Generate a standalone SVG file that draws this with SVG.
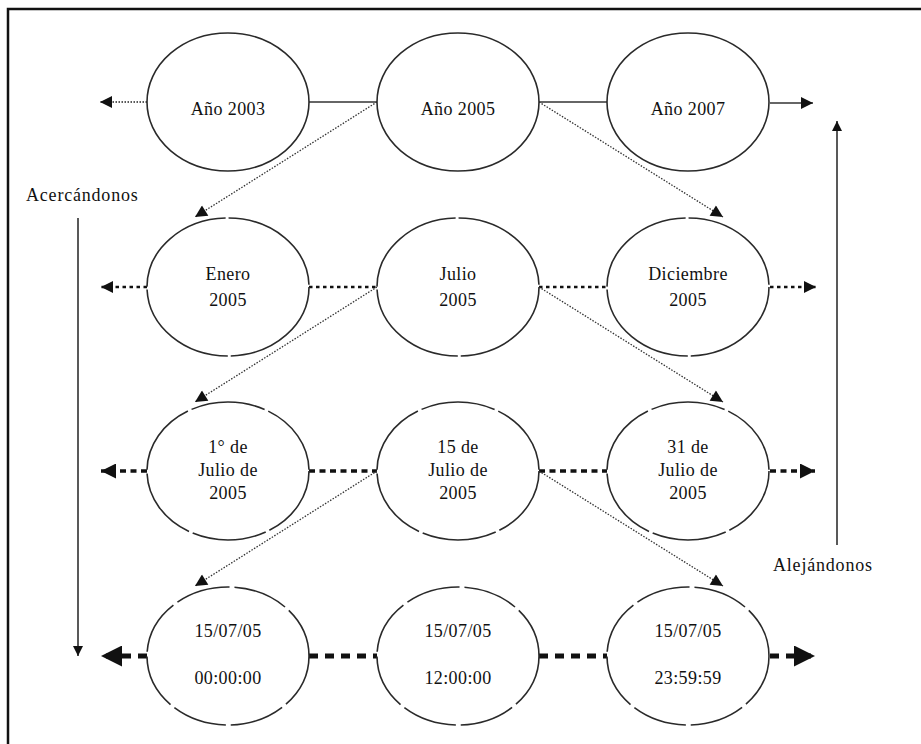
<svg xmlns="http://www.w3.org/2000/svg" width="921" height="744" viewBox="0 0 921 744">
<style>
.bg{fill:#fff}
.frame{stroke:#111;stroke-width:2.5;fill:none}
.node ellipse{fill:#fff;stroke:#2a2a2a;stroke-width:1.6}
.r2 ellipse{stroke-dasharray:115 3}
.r3 ellipse{stroke-dasharray:75 4}
.r4 ellipse{stroke-dasharray:55 5}
text{font-family:"Liberation Serif","Times New Roman",serif;font-size:18px;fill:#111;text-anchor:middle;letter-spacing:0.4px}
.lbl{text-anchor:start;letter-spacing:0.8px}
.solid{stroke:#333;stroke-width:1.3;fill:none}
.dot1{stroke:#222;stroke-width:1.6;stroke-dasharray:1.5 1.5;fill:none}
.diag{stroke:#333;stroke-width:1.3;stroke-dasharray:1.5 1.5;fill:none}
.dot2{stroke:#111;stroke-width:2.6;stroke-dasharray:3.5 3.5;fill:none}
.dot3{stroke:#111;stroke-width:3.6;stroke-dasharray:6 4.5;fill:none}
.dot4{stroke:#111;stroke-width:5;stroke-dasharray:9 7;fill:none}
.vert{stroke:#222;stroke-width:1.5;fill:none}
</style>
<defs>
<marker id="a1" viewBox="0 0 10 10" refX="10" refY="5" markerUnits="userSpaceOnUse" markerWidth="13" markerHeight="12" orient="auto"><path d="M0,0 L10,5 L0,10 z" fill="#111"/></marker>
<marker id="ad" viewBox="0 0 10 10" refX="10" refY="5" markerUnits="userSpaceOnUse" markerWidth="14" markerHeight="12" orient="auto"><path d="M0,0 L10,5 L0,10 z" fill="#111"/></marker>
<marker id="av" viewBox="0 0 10 10" refX="10" refY="5" markerUnits="userSpaceOnUse" markerWidth="14" markerHeight="10" orient="auto"><path d="M0,0 L10,5 L0,10 z" fill="#111"/></marker>
<marker id="a2" viewBox="0 0 10 10" refX="10" refY="5" markerUnits="userSpaceOnUse" markerWidth="14" markerHeight="12" orient="auto"><path d="M0,0 L10,5 L0,10 z" fill="#111"/></marker>
<marker id="a3" viewBox="0 0 10 10" refX="10" refY="5" markerUnits="userSpaceOnUse" markerWidth="17" markerHeight="15" orient="auto"><path d="M0,0 L10,5 L0,10 z" fill="#111"/></marker>
<marker id="a4" viewBox="0 0 10 10" refX="10" refY="5" markerUnits="userSpaceOnUse" markerWidth="21" markerHeight="21" orient="auto"><path d="M0,0 L10,5 L0,10 z" fill="#111"/></marker>
</defs>
<rect class="bg" x="0" y="0" width="921" height="744"/>
<path class="frame" d="M8,744 L8,9 L921,9"/>

<g id="connectors">
<line class="dot1" x1="147" y1="102" x2="100" y2="102" marker-end="url(#a1)"/>
<line class="solid" x1="309" y1="102" x2="377" y2="102"/>
<line class="solid" x1="539" y1="102" x2="607" y2="102"/>
<line class="solid" x1="770" y1="103" x2="813" y2="103" marker-end="url(#a1)"/>
<line class="dot2" x1="147" y1="287" x2="101" y2="287" marker-end="url(#a2)"/>
<line class="dot2" x1="309" y1="287" x2="377" y2="287"/>
<line class="dot2" x1="539" y1="287" x2="607" y2="287"/>
<line class="dot2" x1="770" y1="287" x2="816" y2="287" marker-end="url(#a2)"/>
<line class="dot3" x1="147" y1="471" x2="101" y2="471" marker-end="url(#a3)"/>
<line class="dot3" x1="309" y1="471" x2="377" y2="471"/>
<line class="dot3" x1="539" y1="471" x2="607" y2="471"/>
<line class="dot3" x1="770" y1="471" x2="815" y2="471" marker-end="url(#a3)"/>
<line class="dot4" x1="147" y1="656" x2="101" y2="656" marker-end="url(#a4)"/>
<line class="dot4" x1="309" y1="656" x2="377" y2="656"/>
<line class="dot4" x1="539" y1="656" x2="607" y2="656"/>
<line class="dot4" x1="770" y1="656" x2="815" y2="656" marker-end="url(#a4)"/>
<line class="diag" x1="377" y1="102" x2="195" y2="217" marker-end="url(#ad)"/>
<line class="diag" x1="539" y1="102" x2="723" y2="217" marker-end="url(#ad)"/>
<line class="diag" x1="377" y1="287" x2="195" y2="402" marker-end="url(#ad)"/>
<line class="diag" x1="539" y1="287" x2="723" y2="402" marker-end="url(#ad)"/>
<line class="diag" x1="377" y1="471" x2="195" y2="586" marker-end="url(#ad)"/>
<line class="diag" x1="539" y1="471" x2="723" y2="586" marker-end="url(#ad)"/>
<line class="vert" x1="78" y1="218" x2="78" y2="656" marker-end="url(#av)"/>
<line class="vert" x1="837" y1="545" x2="837" y2="121" marker-end="url(#av)"/>
</g>

<g id="n2003" class="node"><ellipse cx="228" cy="102" rx="81" ry="69"/><text x="228" y="115">Año 2003</text></g>
<g id="n2005" class="node"><ellipse cx="458" cy="102" rx="81" ry="69"/><text x="458" y="115">Año 2005</text></g>
<g id="n2007" class="node"><ellipse cx="688" cy="102" rx="81" ry="69"/><text x="688" y="115">Año 2007</text></g>

<g id="nEnero" class="node r2"><ellipse cx="228" cy="287" rx="81" ry="69"/><text x="228" y="280">Enero</text><text x="228" y="306">2005</text></g>
<g id="nJulio" class="node r2"><ellipse cx="458" cy="287" rx="81" ry="69"/><text x="458" y="280">Julio</text><text x="458" y="306">2005</text></g>
<g id="nDic" class="node r2"><ellipse cx="688" cy="287" rx="81" ry="69"/><text x="688" y="280">Diciembre</text><text x="688" y="306">2005</text></g>

<g id="n1Jul" class="node r3"><ellipse cx="228" cy="471" rx="81" ry="69"/><text x="228" y="453">1° de</text><text x="228" y="476">Julio de</text><text x="228" y="499">2005</text></g>
<g id="n15Jul" class="node r3"><ellipse cx="458" cy="471" rx="81" ry="69"/><text x="458" y="453">15 de</text><text x="458" y="476">Julio de</text><text x="458" y="499">2005</text></g>
<g id="n31Jul" class="node r3"><ellipse cx="688" cy="471" rx="81" ry="69"/><text x="688" y="453">31 de</text><text x="688" y="476">Julio de</text><text x="688" y="499">2005</text></g>

<g id="nT0" class="node r4"><ellipse cx="228" cy="656" rx="81" ry="69"/><text x="228" y="637">15/07/05</text><text x="228" y="684">00:00:00</text></g>
<g id="nT12" class="node r4"><ellipse cx="458" cy="656" rx="81" ry="69"/><text x="458" y="637">15/07/05</text><text x="458" y="684">12:00:00</text></g>
<g id="nT23" class="node r4"><ellipse cx="688" cy="656" rx="81" ry="69"/><text x="688" y="637">15/07/05</text><text x="688" y="684">23:59:59</text></g>

<g id="lblAcer"><text class="lbl" x="26" y="201">Acercándonos</text></g>
<g id="lblAlej"><text class="lbl" x="773" y="571">Alejándonos</text></g>
</svg>
